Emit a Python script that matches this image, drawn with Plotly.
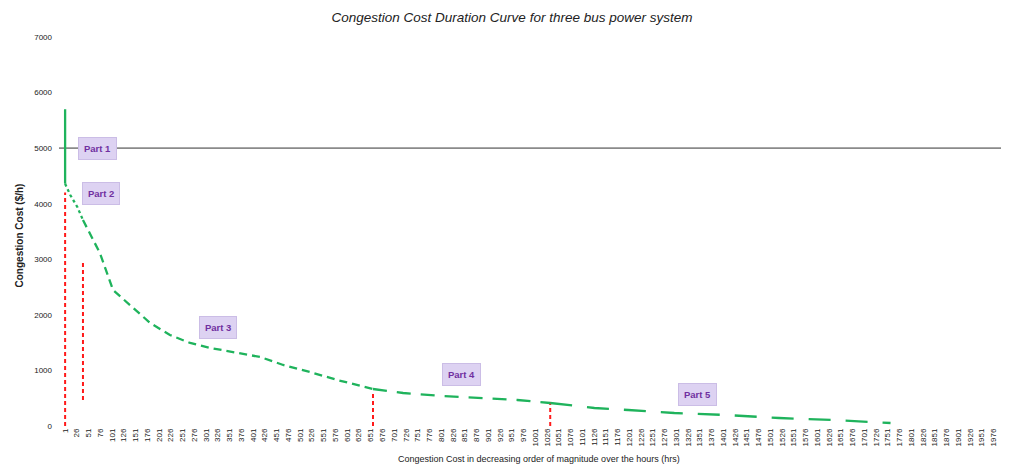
import plotly.graph_objects as go

# ---- data ----
tick_hours = [1 + 25 * i for i in range(81)]
tick_labels = [str(h) for h in tick_hours]
y_ticks = [0, 1000, 2000, 3000, 4000, 5000, 6000, 7000]

part1_x = [1, 1]
part1_y = [5700, 4360]
part2_x = [1, 12, 27, 39]
part2_y = [4360, 4157, 3941, 3707]
part3_x = [39, 75, 103, 139, 182, 224, 267, 310, 367, 416, 465, 522, 580, 644, 656]
part3_y = [3707, 3113, 2447, 2177, 1853, 1638, 1494, 1404, 1314, 1242, 1098, 972, 828, 684, 666]
part4_x = [656, 720, 805, 890, 963, 1033]
part4_y = [666, 594, 540, 504, 468, 414]
part5_x = [1033, 1127, 1199, 1297, 1406, 1520, 1633, 1757]
part5_y = [414, 324, 288, 234, 198, 144, 108, 54]

limit_value = 5000
boundary_x = [1, 39, 656, 1033]
boundary_lo = [0, 470, 0, 0]
boundary_hi = [4200, 2950, 600, 430]

part_labels = ["Part 1", "Part 2", "Part 3", "Part 4", "Part 5"]
part_label_x = [69, 78, 327, 844, 1346]
part_label_y = [4985, 4175, 1764, 918, 558]

x_min, x_max = -12, 2009

GREEN = "#1fb35c"
fig = go.Figure()

fig.add_trace(go.Scatter(x=[x_min, x_max], y=[limit_value, limit_value], mode="lines",
                         line=dict(color="#8a8a8a", width=1.6), hoverinfo="skip"))

for bx, lo, hi in zip(boundary_x, boundary_lo, boundary_hi):
    fig.add_trace(go.Scatter(x=[bx, bx], y=[lo, hi], mode="lines",
                             line=dict(color="#ff1a1a", width=2, dash="4px,3px")))

fig.add_trace(go.Scatter(x=part1_x, y=part1_y, mode="lines", line=dict(color=GREEN, width=2.3)))
fig.add_trace(go.Scatter(x=part2_x, y=part2_y, mode="lines", line=dict(color=GREEN, width=2.3, dash="3px,3px")))
fig.add_trace(go.Scatter(x=part3_x, y=part3_y, mode="lines", line=dict(color=GREEN, width=2.3, dash="8px,5px")))
fig.add_trace(go.Scatter(x=part4_x, y=part4_y, mode="lines", line=dict(color=GREEN, width=2.3, dash="14px,10px")))
fig.add_trace(go.Scatter(x=part5_x, y=part5_y, mode="lines", line=dict(color=GREEN, width=2.3, dash="22px,15px")))

for t, ax_, ay_ in zip(part_labels, part_label_x, part_label_y):
    fig.add_annotation(x=ax_, y=ay_, text="<b>%s</b>" % t, showarrow=False,
                       font=dict(size=9.5, color="#7030a0", family="Liberation Sans"),
                       bgcolor="#ddd2f2", bordercolor="#cbbde6", borderwidth=1, borderpad=5)

fig.add_annotation(x=0.505, y=-0.103, xref="paper", yref="paper", showarrow=False,
                   text="Congestion Cost in decreasing order of magnitude over the hours (hrs)",
                   font=dict(size=9, color="#222", family="Liberation Sans"))
fig.add_annotation(x=-0.0495, y=0.491, xref="paper", yref="paper", showarrow=False, textangle=-90,
                   text="<b>Congestion Cost ($/h)</b>",
                   font=dict(size=10, color="#222", family="Liberation Sans"))

fig.update_layout(
    width=1009, height=472,
    margin=dict(l=51, r=8, t=29, b=54),
    paper_bgcolor="white", plot_bgcolor="white",
    showlegend=False,
    title=dict(text="<i>Congestion Cost Duration Curve for three bus power system</i>",
               x=0.4995, xanchor="center", y=0.981, yanchor="middle",
               font=dict(size=13.5, color="#222", family="Liberation Sans")),
    font=dict(family="Liberation Sans", color="#222"),
)
fig.update_xaxes(range=[x_min, x_max], tickmode="array", tickvals=tick_hours, ticktext=tick_labels,
                 tickangle=-90, tickfont=dict(size=8), showgrid=False, zeroline=False,
                 showline=False, ticks="", ticklen=0, automargin=False, ticklabeloverflow="allow")
fig.update_yaxes(range=[0, 7000], tickmode="array", tickvals=y_ticks,
                 tickfont=dict(size=8), showgrid=False, zeroline=False, showline=False,
                 ticks="", ticklabelstandoff=6, automargin=False)

fig.write_html("out.html")
